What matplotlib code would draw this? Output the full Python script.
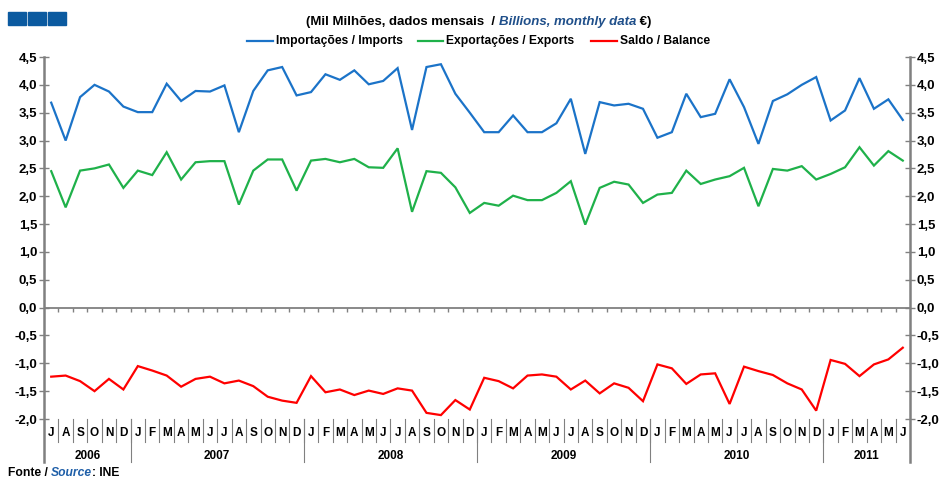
import matplotlib
matplotlib.use("Agg")
import matplotlib.pyplot as plt
import matplotlib.transforms as mtransforms
from matplotlib.lines import Line2D
from matplotlib.patches import Rectangle
import numpy as np

# Monthly data, July 2006 - June 2011 (billions of euros)
months = (["J", "A", "S", "O", "N", "D"]
          + ["J", "F", "M", "A", "M", "J", "J", "A", "S", "O", "N", "D"] * 4
          + ["J", "F", "M", "A", "M", "J"])
years = ["2006", "2007", "2008", "2009", "2010", "2011"]
year_counts = [6, 12, 12, 12, 12, 6]

imports = [3.68, 3.00, 3.78, 4.00, 3.88, 3.61,
           3.51, 3.51, 4.02, 3.71, 3.89, 3.88, 3.99, 3.15, 3.89, 4.26, 4.32, 3.81,
           3.87, 4.19, 4.09, 4.26, 4.01, 4.07, 4.30, 3.19, 4.32, 4.37, 3.84, 3.50,
           3.15, 3.15, 3.45, 3.15, 3.15, 3.31, 3.75, 2.76, 3.69, 3.63, 3.66, 3.57,
           3.05, 3.15, 3.84, 3.42, 3.48, 4.10, 3.60, 2.94, 3.71, 3.83, 4.00, 4.14,
           3.36, 3.54, 4.12, 3.57, 3.74, 3.37]
exports = [2.45, 1.80, 2.46, 2.50, 2.57, 2.15,
           2.46, 2.38, 2.79, 2.30, 2.61, 2.63, 2.63, 1.85, 2.46, 2.66, 2.66, 2.10,
           2.64, 2.67, 2.61, 2.67, 2.52, 2.51, 2.86, 1.72, 2.45, 2.42, 2.16, 1.70,
           1.88, 1.83, 2.01, 1.93, 1.93, 2.06, 2.27, 1.49, 2.15, 2.26, 2.21, 1.88,
           2.03, 2.06, 2.46, 2.22, 2.30, 2.36, 2.51, 1.82, 2.49, 2.46, 2.54, 2.30,
           2.40, 2.52, 2.88, 2.55, 2.81, 2.64]
balance = [-1.24, -1.22, -1.32, -1.50, -1.28, -1.47,
           -1.05, -1.13, -1.22, -1.42, -1.28, -1.24, -1.36, -1.31, -1.41, -1.60, -1.67, -1.71,
           -1.23, -1.52, -1.47, -1.57, -1.49, -1.55, -1.45, -1.49, -1.89, -1.93, -1.66, -1.83,
           -1.26, -1.32, -1.45, -1.22, -1.20, -1.24, -1.47, -1.31, -1.54, -1.36, -1.44, -1.68,
           -1.02, -1.09, -1.37, -1.20, -1.18, -1.73, -1.06, -1.14, -1.21, -1.36, -1.47, -1.85,
           -0.94, -1.01, -1.23, -1.02, -0.93, -0.72]

FONT = "Liberation Sans"
BLUE = "#1b73c8"
GREEN = "#1fb14a"
RED = "#ff0000"
NAVY = "#0b5aa0"
GRAY = "#808080"

plt.rcParams["font.family"] = [FONT, "DejaVu Sans"]
plt.rcParams["font.weight"] = "bold"

W, H = 943, 479
fig = plt.figure(figsize=(W / 100, H / 100), dpi=100)


def fx(px):
    return px / W


def fy(py):
    return 1 - py / H


ax = fig.add_axes([fx(44), fy(419), fx(910) - fx(44), fy(57) - fy(419)])
x = np.arange(len(months))
n = len(months)

ax.plot(x, imports, color=BLUE, lw=1.6, solid_joinstyle="miter")
ax.plot(x, exports, color=GREEN, lw=1.6, solid_joinstyle="miter")
ax.plot(x, balance, color=RED, lw=1.6, solid_joinstyle="miter")

ax.set_xlim(-0.5, n - 0.5)
ax.set_ylim(-2.0, 4.5)
for s in ax.spines.values():
    s.set_visible(False)

yt = np.arange(-2.0, 4.51, 0.5)
ax.set_yticks(yt)
ax.set_yticklabels([f"{v:.1f}".replace(".", ",") for v in yt])
ax.tick_params(axis="y", which="both", left=True, right=True, labelleft=True,
               labelright=True, direction="inout", length=7, width=1,
               color=GRAY, labelsize=9.5, pad=1.5)
ax.set_xticks([])

# zero line with small ticks at month boundaries
ax.axhline(0, color=GRAY, lw=1.3, zorder=1)
bounds = np.arange(0.5, n - 0.5, 1.0)
ax.vlines(bounds, -0.07, 0, color=GRAY, lw=1, zorder=1)

# side spines extending under the month/year labels
trans = mtransforms.blended_transform_factory(ax.transData, ax.transAxes)
low = (419 - 462) / 362
for xv in (-0.5, n - 0.5):
    ax.add_line(Line2D([xv, xv], [low, 1], transform=trans, color=GRAY,
                       lw=1.8, clip_on=False))

# month labels and separators
mlow = (419 - 442) / 362
for i, m in enumerate(months):
    ax.text(i, (419 - 433) / 362, m, transform=trans, ha="center", va="center",
            fontsize=8.5, fontweight="bold")
for b in bounds:
    ax.add_line(Line2D([b, b], [0, mlow], transform=trans, color=GRAY,
                       lw=0.8, clip_on=False))

# year labels and separators
start = 0
for yr, c in zip(years, year_counts):
    ax.text(start + (c - 1) / 2, (419 - 456) / 362, yr, transform=trans,
            ha="center", va="center", fontsize=8.5, fontweight="bold")
    if start > 0:
        ax.add_line(Line2D([start - 0.5, start - 0.5], [0, low], transform=trans,
                           color=GRAY, lw=0.8, clip_on=False))
    start += c

# logo squares
for k in range(3):
    fig.add_artist(Rectangle((fx(8 + k * 20), fy(25)), fx(18), fy(12) - fy(25),
                             transform=fig.transFigure, color=NAVY))

# title in mixed styles
t1 = fig.text(fx(306), fy(22), "(Mil Milhões, dados mensais  / ", fontsize=9.5,
              fontweight="bold", va="center", ha="left")
t2 = ax.annotate("Billions, monthly data", xy=(1, 0), xycoords=t1, va="bottom",
                 ha="left", fontsize=9.5, fontweight="bold", style="italic",
                 color="#1f4f8a", annotation_clip=False)
ax.annotate(" €)", xy=(1, 0), xycoords=t2, va="bottom", ha="left",
            fontsize=9.5, fontweight="bold", annotation_clip=False)

# legend
legend_items = [(247, 273, BLUE, "Importações / Imports"),
                (418, 443, GREEN, "Exportações / Exports"),
                (591, 617, RED, "Saldo / Balance")]
for x0, x1, col, lab in legend_items:
    fig.add_artist(Line2D([fx(x0), fx(x1)], [fy(41), fy(41)],
                          transform=fig.transFigure, color=col, lw=1.6))
    fig.text(fx(x1 + 3), fy(41), lab, fontsize=8.7, fontweight="bold",
             va="center", ha="left")

# source
s1 = fig.text(fx(8), fy(473), "Fonte / ", fontsize=8.7, fontweight="bold",
              va="center", ha="left")
s2 = ax.annotate("Source", xy=(1, 0), xycoords=s1, va="bottom", ha="left",
                 fontsize=8.7, fontweight="bold", style="italic",
                 color="#1f5fa8", annotation_clip=False)
ax.annotate(": INE", xy=(1, 0), xycoords=s2, va="bottom", ha="left",
            fontsize=8.7, fontweight="bold", annotation_clip=False)

fig.savefig("out.png", dpi=100)
